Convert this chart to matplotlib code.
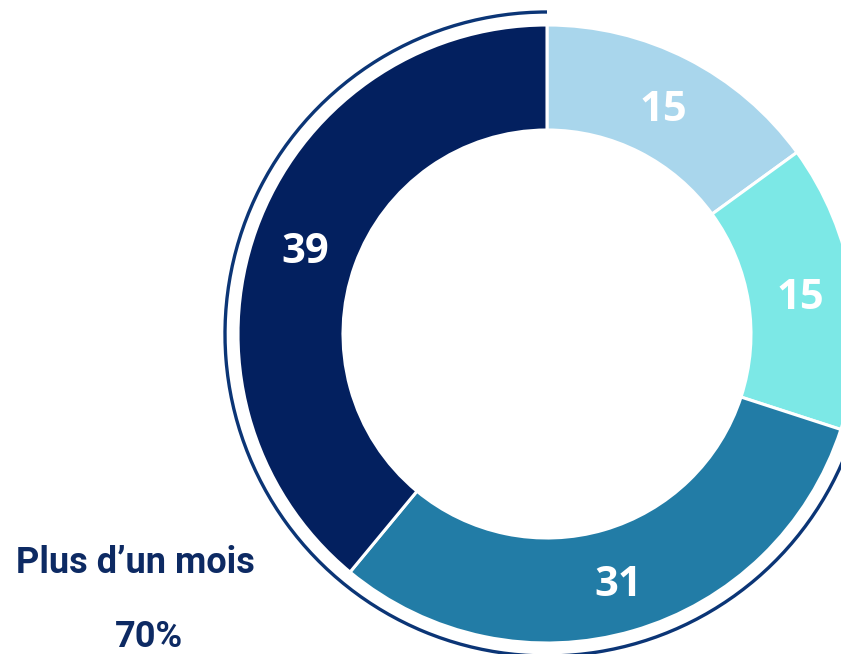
import matplotlib
matplotlib.use("Agg")
import matplotlib.pyplot as plt
from matplotlib.patches import Arc

# share of respondents per duration bucket (clockwise from top)
values = [15, 15, 31, 39]
colors = ["#A9D6EC", "#7CE8E6", "#227CA6", "#03205F"]
group_label = "Plus d\u2019un mois"
group_share = "70%"
group_slices = [2, 3]  # slices covered by the outer arc

W, H = 841, 654
cx, cy = 547, H - 334
r_out, r_in = 309, 204
r_arc = 322

fig = plt.figure(figsize=(W / 100, H / 100), dpi=100)
ax = fig.add_axes([0, 0, 1, 1])

wedges, texts = ax.pie(
    values,
    colors=colors,
    startangle=90,
    counterclock=False,
    center=(cx, cy),
    radius=r_out,
    labels=[str(v) for v in values],
    labeldistance=(r_out + r_in) / 2 / r_out,
    wedgeprops=dict(width=r_out - r_in, edgecolor="white", linewidth=2.2),
    textprops=dict(color="white", fontsize=30, fontweight="bold",
                   family="Open Sans", ha="center", va="center"),
)
# nudge labels down a little, like the original
for t in texts:
    x, y = t.get_position()
    t.set_position((x, y - 5))

# outer arc over the "more than a month" slices
total = sum(values)
span = sum(values[i] for i in group_slices) / total * 360
arc = Arc((cx, cy), 2 * r_arc, 2 * r_arc, theta1=90, theta2=90 + span,
          color="#0B3576", linewidth=2.4)
ax.add_patch(arc)

ax.text(135, H - 563, group_label, color="#0D2A63", fontsize=26,
        fontweight="bold", family="Roboto", ha="center", va="center")
ax.text(149, H - 637, group_share, color="#0D2A63", fontsize=26,
        fontweight="bold", family="Roboto", ha="center", va="center")

ax.set_xlim(0, W)
ax.set_ylim(0, H)
ax.set_aspect("equal")
ax.axis("off")

fig.savefig("out.png", dpi=100)
